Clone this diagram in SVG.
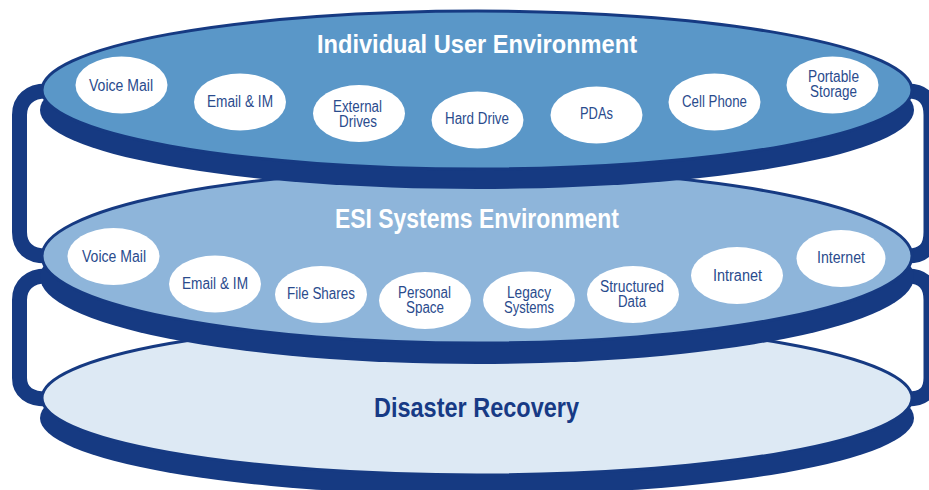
<svg xmlns="http://www.w3.org/2000/svg" width="929" height="490" viewBox="0 0 929 490">
<style>
.band{fill:#163a82}
.rim{stroke:#163a82;stroke-width:3}
.s1{fill:#5a97c8}
.s2{fill:#8eb5da}
.s3{fill:#dde9f4}
.bubble{fill:#ffffff}
.lbl{font-family:"Liberation Sans",Arial,sans-serif;font-size:16px;fill:#2a4b8d;text-anchor:middle}
.ttl{font-family:"Liberation Sans",Arial,sans-serif;font-weight:bold;text-anchor:middle}
.bracket{fill:none;stroke:#163a82;stroke-width:15}
</style>
<g id="connectors">
<path class="bracket" d="M46 91 C30 91 19.5 100 19.5 115 V232 C19.5 248 30 256 46 256"/>
<path class="bracket" d="M46 276 C30 276 19.5 285 19.5 300 V378 C19.5 392 30 399 46 399"/>
<path class="bracket" d="M908 91 C924 91 931 100 931 115 V232 C931 248 924 256 908 256"/>
<path class="bracket" d="M908 276 C924 276 931 285 931 300 V378 C931 392 924 399 908 399"/>
</g>
<g id="disaster-recovery">
<ellipse class="band" cx="477" cy="418" rx="437" ry="77"/>
<ellipse class="s3 rim" cx="477" cy="398" rx="435" ry="77"/>
<text class="ttl" x="476.5" y="417" font-size="27" fill="#173a85" textLength="205" lengthAdjust="spacingAndGlyphs">Disaster Recovery</text>
</g>
<g id="esi-systems">
<ellipse class="band" cx="477" cy="277" rx="437" ry="87"/>
<ellipse class="s2 rim" cx="477" cy="256" rx="435" ry="87"/>
<text class="ttl" x="477" y="228" font-size="27" fill="#ffffff" textLength="284" lengthAdjust="spacingAndGlyphs">ESI Systems Environment</text>
</g>
<g id="individual-user">
<ellipse class="band" cx="477" cy="110" rx="437" ry="79"/>
<ellipse class="s1 rim" cx="477" cy="90" rx="435" ry="79"/>
<text class="ttl" x="477" y="53" font-size="26" fill="#ffffff" textLength="320" lengthAdjust="spacingAndGlyphs">Individual User Environment</text>
</g>
<g id="u-voice-mail"><ellipse class="bubble" cx="121.5" cy="85" rx="46" ry="28.5"/><text class="lbl" x="121" y="91" textLength="64" lengthAdjust="spacingAndGlyphs">Voice Mail</text></g>
<g id="u-email-im"><ellipse class="bubble" cx="240" cy="102" rx="46" ry="28.5"/><text class="lbl" x="240" y="107" textLength="66" lengthAdjust="spacingAndGlyphs">Email &amp; IM</text></g>
<g id="u-external-drives"><ellipse class="bubble" cx="359" cy="113.5" rx="46" ry="28.5"/><text class="lbl" x="357.5" y="112" textLength="49" lengthAdjust="spacingAndGlyphs">External</text><text class="lbl" x="358" y="127" textLength="38" lengthAdjust="spacingAndGlyphs">Drives</text></g>
<g id="u-hard-drive"><ellipse class="bubble" cx="477.5" cy="120" rx="46" ry="28.5"/><text class="lbl" x="477" y="124" textLength="64" lengthAdjust="spacingAndGlyphs">Hard Drive</text></g>
<g id="u-pdas"><ellipse class="bubble" cx="596.5" cy="115" rx="46" ry="28.5"/><text class="lbl" x="596.5" y="119" textLength="33" lengthAdjust="spacingAndGlyphs">PDAs</text></g>
<g id="u-cell-phone"><ellipse class="bubble" cx="714.5" cy="102" rx="46" ry="28.5"/><text class="lbl" x="714.5" y="107" textLength="65" lengthAdjust="spacingAndGlyphs">Cell Phone</text></g>
<g id="u-portable-storage"><ellipse class="bubble" cx="832.5" cy="85" rx="46" ry="28.5"/><text class="lbl" x="833.5" y="82" textLength="51" lengthAdjust="spacingAndGlyphs">Portable</text><text class="lbl" x="833.5" y="97" textLength="47" lengthAdjust="spacingAndGlyphs">Storage</text></g>
<g id="s-voice-mail"><ellipse class="bubble" cx="113.5" cy="256.5" rx="46" ry="28.5"/><text class="lbl" x="114" y="262" textLength="64" lengthAdjust="spacingAndGlyphs">Voice Mail</text></g>
<g id="s-email-im"><ellipse class="bubble" cx="215" cy="284" rx="46" ry="28.5"/><text class="lbl" x="215" y="289" textLength="66" lengthAdjust="spacingAndGlyphs">Email &amp; IM</text></g>
<g id="s-file-shares"><ellipse class="bubble" cx="321" cy="294.5" rx="46" ry="28.5"/><text class="lbl" x="321" y="299" textLength="68" lengthAdjust="spacingAndGlyphs">File Shares</text></g>
<g id="s-personal-space"><ellipse class="bubble" cx="425" cy="300.5" rx="46" ry="28.5"/><text class="lbl" x="424.5" y="298" textLength="53" lengthAdjust="spacingAndGlyphs">Personal</text><text class="lbl" x="425" y="313" textLength="38" lengthAdjust="spacingAndGlyphs">Space</text></g>
<g id="s-legacy-systems"><ellipse class="bubble" cx="529" cy="300" rx="46" ry="28.5"/><text class="lbl" x="529" y="298" textLength="44" lengthAdjust="spacingAndGlyphs">Legacy</text><text class="lbl" x="529" y="313" textLength="50" lengthAdjust="spacingAndGlyphs">Systems</text></g>
<g id="s-structured-data"><ellipse class="bubble" cx="633" cy="294.5" rx="46" ry="28.5"/><text class="lbl" x="632" y="292" textLength="64" lengthAdjust="spacingAndGlyphs">Structured</text><text class="lbl" x="632" y="307" textLength="28" lengthAdjust="spacingAndGlyphs">Data</text></g>
<g id="s-intranet"><ellipse class="bubble" cx="737" cy="275.5" rx="46" ry="28.5"/><text class="lbl" x="737.5" y="281" textLength="49" lengthAdjust="spacingAndGlyphs">Intranet</text></g>
<g id="s-internet"><ellipse class="bubble" cx="841" cy="258.5" rx="44.5" ry="28.5"/><text class="lbl" x="841" y="263" textLength="48" lengthAdjust="spacingAndGlyphs">Internet</text></g>
</svg>
